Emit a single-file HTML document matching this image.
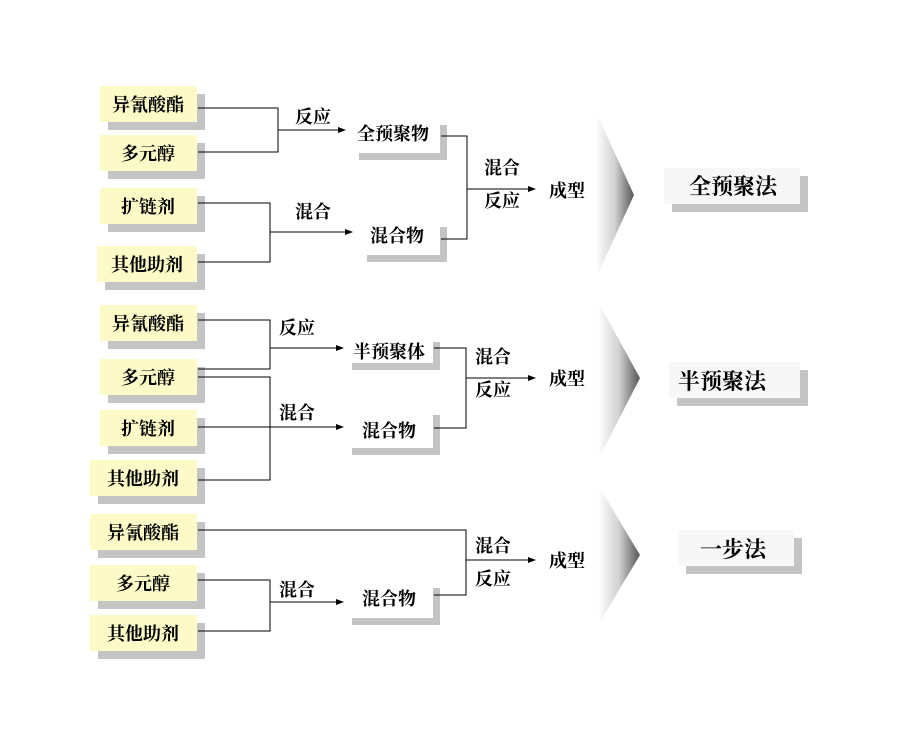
<!DOCTYPE html>
<html><head><meta charset="utf-8"><style>
html,body{margin:0;padding:0;background:#fff;}
svg text{font-family:"Liberation Serif","Noto Serif CJK SC",serif;font-weight:bold;}
</style></head><body>
<svg width="900" height="749" viewBox="0 0 900 749" xmlns="http://www.w3.org/2000/svg">
<defs>
<linearGradient id="g" x1="0" y1="0" x2="1" y2="0">
<stop offset="0" stop-color="#fff"/><stop offset="0.5" stop-color="#d0d0d0"/><stop offset="1" stop-color="#555"/>
</linearGradient>
<marker id="a" markerWidth="8" markerHeight="8" refX="7" refY="4" orient="auto" markerUnits="userSpaceOnUse">
<path d="M0,1 L8,4 L0,7 z" fill="#000"/></marker>
</defs>
<polygon points="596,112 634,195 596,278" fill="url(#g)"/>
<polygon points="598,302 640,378 598,460" fill="url(#g)"/>
<polygon points="598,485 640,555 598,625" fill="url(#g)"/>

<g fill="#c4c4c4">
<rect x="108" y="94" width="97" height="36"/>
<rect x="108" y="143" width="97" height="36"/>
<rect x="108" y="196" width="97" height="36"/>
<rect x="105" y="254" width="100" height="36"/>
<rect x="108" y="313" width="97" height="36"/>
<rect x="108" y="367" width="97" height="36"/>
<rect x="108" y="418" width="97" height="36"/>
<rect x="98" y="468" width="107" height="36"/>
<rect x="98" y="522" width="107" height="36"/>
<rect x="98" y="573" width="107" height="36"/>
<rect x="98" y="623" width="107" height="36"/>
<rect x="359" y="125" width="88" height="35"/>
<rect x="367" y="227" width="80" height="35"/>
<rect x="352" y="342" width="88" height="28"/>
<rect x="352" y="415" width="88" height="40"/>
<rect x="352" y="588" width="88" height="37"/>
<rect x="672" y="176" width="136" height="36"/>
<rect x="677" y="370" width="131" height="36"/>
<rect x="686" y="538" width="116" height="36"/>
</g>
<g fill="#fcfac6">
<rect x="100" y="86" width="97" height="36"/>
<rect x="100" y="135" width="97" height="36"/>
<rect x="100" y="188" width="97" height="36"/>
<rect x="97" y="246" width="100" height="36"/>
<rect x="100" y="305" width="97" height="36"/>
<rect x="100" y="359" width="97" height="36"/>
<rect x="100" y="410" width="97" height="36"/>
<rect x="90" y="460" width="107" height="36"/>
<rect x="90" y="514" width="107" height="36"/>
<rect x="90" y="565" width="107" height="36"/>
<rect x="90" y="615" width="107" height="36"/>
</g>
<g fill="#fff">
<rect x="352" y="118" width="88" height="35"/>
<rect x="360" y="220" width="80" height="35"/>
<rect x="345" y="335" width="88" height="28"/>
<rect x="345" y="408" width="88" height="40"/>
<rect x="345" y="581" width="88" height="37"/>
</g>
<g fill="#f7f7f7">
<rect x="664" y="168" width="136" height="36"/>
<rect x="669" y="362" width="131" height="36"/>
<rect x="678" y="530" width="116" height="36"/>
</g>

<g stroke="#000" stroke-width="1" fill="none">
<polyline points="198,108 278,108 278,152 198,152"/>
<line x1="278" y1="130" x2="345" y2="130" marker-end="url(#a)"/>
<polyline points="198,203 270,203 270,262 198,262"/>
<line x1="270" y1="232" x2="352" y2="232" marker-end="url(#a)"/>
<polyline points="441,136 467,136 467,239 441,239"/>
<line x1="467" y1="189" x2="535" y2="189" marker-end="url(#a)"/>
<polyline points="198,320 270,320 270,369 198,369"/>
<line x1="270" y1="348" x2="343" y2="348" marker-end="url(#a)"/>
<polyline points="198,377 270,377 270,480 198,480"/>
<line x1="198" y1="427" x2="343" y2="427" marker-end="url(#a)"/>
<polyline points="434,348 466,348 466,428 434,428"/>
<line x1="466" y1="378" x2="535" y2="378" marker-end="url(#a)"/>
<polyline points="198,530 466,530 466,595 434,595"/>
<polyline points="198,580 270,580 270,631 198,631"/>
<line x1="270" y1="602" x2="343" y2="602" marker-end="url(#a)"/>
<line x1="466" y1="560" x2="535" y2="560" marker-end="url(#a)"/>
</g>

<g font-size="18" text-anchor="middle" fill="#000">
<text x="148" y="111">异氰酸酯</text>
<text x="148" y="160">多元醇</text>
<text x="148" y="213">扩链剂</text>
<text x="147" y="271">其他助剂</text>
<text x="148" y="330">异氰酸酯</text>
<text x="148" y="384">多元醇</text>
<text x="148" y="435">扩链剂</text>
<text x="143" y="485">其他助剂</text>
<text x="143" y="539">异氰酸酯</text>
<text x="143" y="590">多元醇</text>
<text x="143" y="640">其他助剂</text>
<text x="393" y="140">全预聚物</text>
<text x="397" y="242">混合物</text>
<text x="389" y="358">半预聚体</text>
<text x="389" y="437">混合物</text>
<text x="389" y="605">混合物</text>
<text x="313" y="123">反应</text>
<text x="313" y="218">混合</text>
<text x="297" y="334">反应</text>
<text x="297" y="419">混合</text>
<text x="297" y="596">混合</text>
<text x="502" y="174">混合</text>
<text x="502" y="207">反应</text>
<text x="567" y="197">成型</text>
<text x="493" y="363">混合</text>
<text x="493" y="396">反应</text>
<text x="567" y="385">成型</text>
<text x="493" y="552">混合</text>
<text x="493" y="585">反应</text>
<text x="567" y="567">成型</text>
</g>
<g font-size="22" text-anchor="middle" fill="#000">
<text x="733" y="194">全预聚法</text>
<text x="722" y="389">半预聚法</text>
<text x="733" y="557">一步法</text>
</g>
</svg>
</body></html>
